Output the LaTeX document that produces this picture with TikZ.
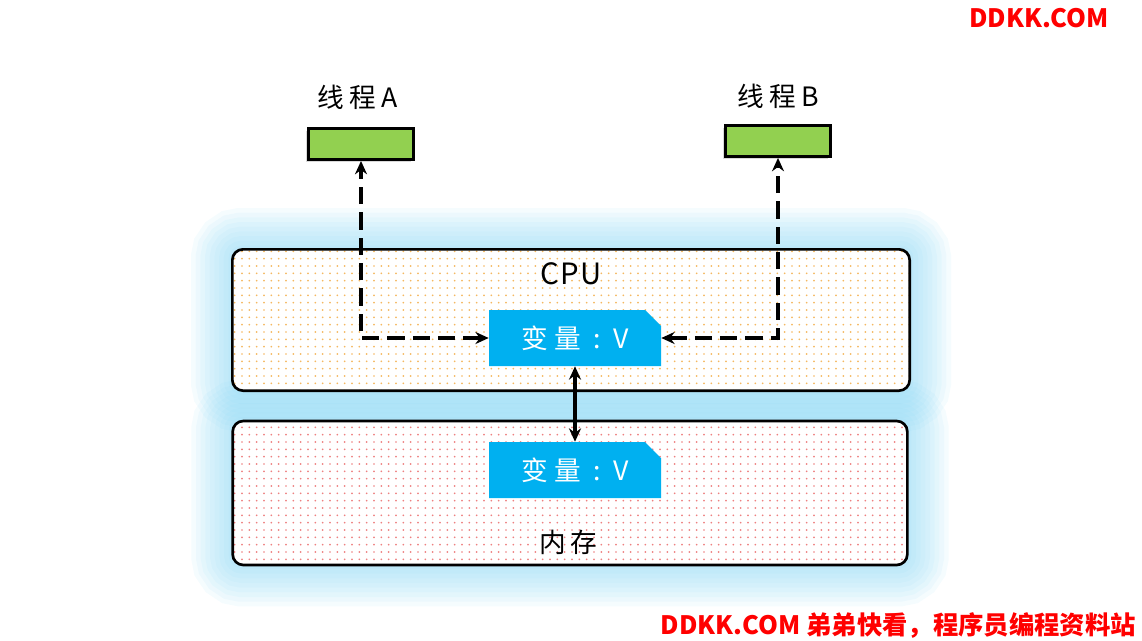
\documentclass[tikz,border=0pt]{standalone}
\usepackage{fontspec}
\setmainfont{Noto Sans CJK SC}
\usetikzlibrary{shapes.misc,patterns.meta,shadows,arrows.meta,backgrounds}
\definecolor{cgreen}{HTML}{92D050}
\definecolor{cvar}{HTML}{00B0F0}
\definecolor{cglow}{HTML}{7FD3F3}
\definecolor{cdot}{HTML}{F5B860}
\definecolor{cpink}{HTML}{EE8080}
\definecolor{cred}{HTML}{FF0000}

\begin{document}
\begin{tikzpicture}[x=0.75pt,y=-0.75pt,>={Stealth[length=10pt,width=9pt]},
  thread/.style={draw,line width=2.4pt,fill=cgreen,minimum width=79pt,
    minimum height=23pt,inner sep=0pt,
    drop shadow={shadow xshift=-2pt,shadow yshift=-2pt,opacity=0.3}},
  part/.style={draw,line width=2pt,rounded corners=8pt,inner sep=0pt,
    preaction={fill=white}},
  var/.style={chamfered rectangle,chamfered rectangle corners=north east,
    chamfered rectangle xsep=6pt,chamfered rectangle ysep=6pt,
    fill=cvar,text=white,minimum width=129pt,minimum height=42pt,
    font=\fontsize{20}{22}\selectfont},
  lbl/.style={font=\fontsize{20}{22}\selectfont},
  dashar/.style={line width=2.8pt,dash pattern=on 13pt off 6pt,<->},
  wmark/.style={text=cred,font=\bfseries\fontsize{19}{21}\selectfont,inner sep=0pt}]
  \useasboundingbox (0,0) rectangle (1142,640);
  % threads
  \node[thread] (ta) at (361,144) {};
  \node[thread] (tb) at (778,141) {};
  \node[lbl] (la) at (358,97) {线\hspace{4pt}程\hspace{4pt}A};
  \node[lbl] (lb) at (778,96) {线\hspace{4pt}程\hspace{4pt}B};
  % cpu and memory
  \node[part,pattern={Dots[distance=5.5pt,radius=0.7pt]},pattern color=cdot,
    minimum width=508pt,minimum height=106pt] (cpu) at (571,320) {};
  \node[part,pattern={Dots[distance=5.5pt,radius=0.7pt]},pattern color=cpink,
    minimum width=506pt,minimum height=108pt] (mem) at (570,493) {};
  \begin{scope}[on background layer]
    \foreach \w in {60,53,...,4} {
      \draw[cglow,line width=\w pt,opacity=0.08,rounded corners=8pt]
        (cpu.south west) rectangle (cpu.north east);
      \draw[cglow,line width=\w pt,opacity=0.08,rounded corners=8pt]
        (mem.south west) rectangle (mem.north east);
    }
  \end{scope}
  \node[lbl,font=\fontsize{22}{24}\selectfont] (lcpu) at (571,274) {C\hspace{1pt}P\hspace{1pt}U};
  \node[lbl] (lmem) at (568,542) {内\hspace{3pt}存};
  \node[var] (cv) at (575,338) {变\hspace{5pt}量\hspace{9pt}:\hspace{9pt}V};
  \node[var] (mv) at (575,470) {变\hspace{5pt}量\hspace{9pt}:\hspace{9pt}V};
  % connectors
  \draw[dashar] (cv.west) -| (ta.south);
  \draw[dashar] (cv.east) -| (tb.south);
  \draw[line width=2.6pt,<->] (cv.south) -- (mv.north);
  % watermarks
  \node[wmark] (wm) at (1039,18) {DDKK.COM};
  \node[wmark,anchor=east] (wb) at (1136,625) {DDKK.COM 弟弟快看，程序员编程资料站};
\end{tikzpicture}
\end{document}
